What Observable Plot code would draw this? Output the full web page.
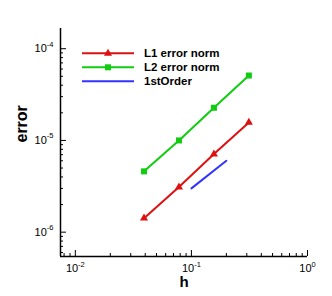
<!DOCTYPE html>
<html>
<head>
<meta charset="utf-8">
<script src="https://cdn.jsdelivr.net/npm/d3@7"></script>
<script src="https://cdn.jsdelivr.net/npm/@observablehq/plot@0.6"></script>
<style>
  html, body { margin: 0; padding: 0; background: #fff; }
  #chart svg { display: block; }
</style>
</head>
<body>
<div id="chart"></div>
<script>
// ---- data ----
const hValues = [0.0390625, 0.078125, 0.15625, 0.3125];
const l1Error = [1.42e-6, 3.1e-6, 7.1e-6, 1.57e-5];
const l2Error = [4.6e-6, 1.0e-5, 2.27e-5, 5.1e-5];
const orderH = [0.1, 0.2];
const orderError = [3.0e-6, 6.0e-6];
const seriesNames = ["L1 error norm", "L2 error norm", "1stOrder"];
const seriesColors = ["#dd1111", "#11cc11", "#3333ff"];
const seriesSymbols = ["triangle", "square", null];
const xTickExponents = [-2, -1, 0];
const yTickExponents = [-6, -5, -4];
const xLabel = "h";
const yLabel = "error";

// ---- layout ----
const W = 332, H = 296;
const mL = 60, mR = 25, mT = 28, mB = 40;
const xDomain = [0.00745, 1];
const yDomain = [5.43e-7, 1.66e-4];
const frameW = W - mL - mR, frameH = H - mT - mB;

const l1 = hValues.map((h, i) => ({h, e: l1Error[i]}));
const l2 = hValues.map((h, i) => ({h, e: l2Error[i]}));
const ord = orderH.map((h, i) => ({h, e: orderError[i]}));

function minors(domain) {
  const out = [];
  const e0 = Math.floor(Math.log10(domain[0])), e1 = Math.ceil(Math.log10(domain[1]));
  for (let e = e0; e <= e1; e++) for (let m = 2; m <= 9; m++) {
    const v = m * Math.pow(10, e);
    if (v >= domain[0] && v <= domain[1]) out.push(v);
  }
  return out;
}
const xMajor = xTickExponents.map(e => Math.pow(10, e));
const yMajor = yTickExponents.map(e => Math.pow(10, e));
const xMinor = minors(xDomain);
const yMinor = minors(yDomain);
const fmt = v => "10^" + Math.round(Math.log10(v));

const chart = Plot.plot({
  width: W, height: H,
  marginLeft: mL, marginRight: mR, marginTop: mT, marginBottom: mB,
  x: {type: "log", domain: xDomain, axis: null},
  y: {type: "log", domain: yDomain, axis: null},
  style: {fontFamily: "'Liberation Sans', Arial, sans-serif", background: "#fff", overflow: "visible"},
  marks: [
    // ticks (inward)
    Plot.ruleX(xMajor, {x: d => d, insetTop: frameH - 6, stroke: "#000", strokeWidth: 1}),
    Plot.ruleX(xMinor, {x: d => d, insetTop: frameH - 3, stroke: "#000", strokeWidth: 1}),
    Plot.ruleY(yMajor, {y: d => d, insetRight: frameW - 6, stroke: "#000", strokeWidth: 1}),
    Plot.ruleY(yMinor, {y: d => d, insetRight: frameW - 3, stroke: "#000", strokeWidth: 1}),
    // axis lines
    Plot.ruleX([xDomain[0]], {stroke: "#000", strokeWidth: 1.5}),
    Plot.ruleY([yDomain[0]], {stroke: "#000", strokeWidth: 1.5}),
    // tick labels
    Plot.text(xMajor, {x: d => d, text: fmt, frameAnchor: "bottom", lineAnchor: "top", dy: 8, fontSize: 11, fill: "#000"}),
    Plot.text(yMajor, {y: d => d, text: fmt, frameAnchor: "left", textAnchor: "end", dx: -7, fontSize: 11, fill: "#000"}),
    // axis titles
    Plot.text([xLabel], {text: d => d, frameAnchor: "bottom", dy: 30, fontSize: 15, fontWeight: "bold", fill: "#000"}),
    Plot.text([yLabel], {text: d => d, frameAnchor: "left", dx: -39, rotate: -90, fontSize: 16, fontWeight: "bold", fill: "#000"}),
    // data
    Plot.line(l1, {x: "h", y: "e", stroke: seriesColors[0], strokeWidth: 2}),
    Plot.dot(l1, {x: "h", y: "e", symbol: "triangle", r: 3, fill: seriesColors[0], stroke: "none"}),
    Plot.line(l2, {x: "h", y: "e", stroke: seriesColors[1], strokeWidth: 2}),
    Plot.dot(l2, {x: "h", y: "e", symbol: "square", r: 3.4, fill: seriesColors[1], stroke: "none"}),
    Plot.line(ord, {x: "h", y: "e", stroke: seriesColors[2], strokeWidth: 2})
  ]
});

// superscript exponents in tick labels
d3.select(chart).selectAll("text").each(function() {
  const t = this.textContent;
  const m = /^10\^(-?\d+)$/.exec(t);
  if (!m) return;
  const sel = d3.select(this);
  sel.text(null);
  sel.append("tspan").text("10");
  sel.append("tspan").attr("dy", -5.5).attr("font-size", 7.5).text(m[1]);
});

// legend inside the plot area
const leg = d3.select(chart).append("g")
  .attr("font-family", "'Liberation Sans', Arial, sans-serif")
  .attr("text-anchor", "start");
seriesNames.forEach((name, i) => {
  const y = 53.3 + i * 14;
  leg.append("line").attr("x1", 82).attr("x2", 134).attr("y1", y).attr("y2", y)
    .attr("stroke", seriesColors[i]).attr("stroke-width", 2);
  if (seriesSymbols[i]) {
    const sym = seriesSymbols[i] === "triangle" ? d3.symbolTriangle : d3.symbolSquare;
    const size = seriesSymbols[i] === "triangle" ? Math.PI * 9 : Math.PI * 3.4 * 3.4;
    leg.append("path").attr("d", d3.symbol(sym, size)()).attr("transform", `translate(108,${y})`)
      .attr("fill", seriesColors[i]);
  }
  leg.append("text").attr("x", 144).attr("y", y).attr("dy", "0.35em")
    .attr("text-anchor", "start")
    .attr("font-size", 11.5).attr("font-weight", "bold").attr("fill", "#000").text(name);
});

document.getElementById("chart").appendChild(chart);
</script>
</body>
</html>
